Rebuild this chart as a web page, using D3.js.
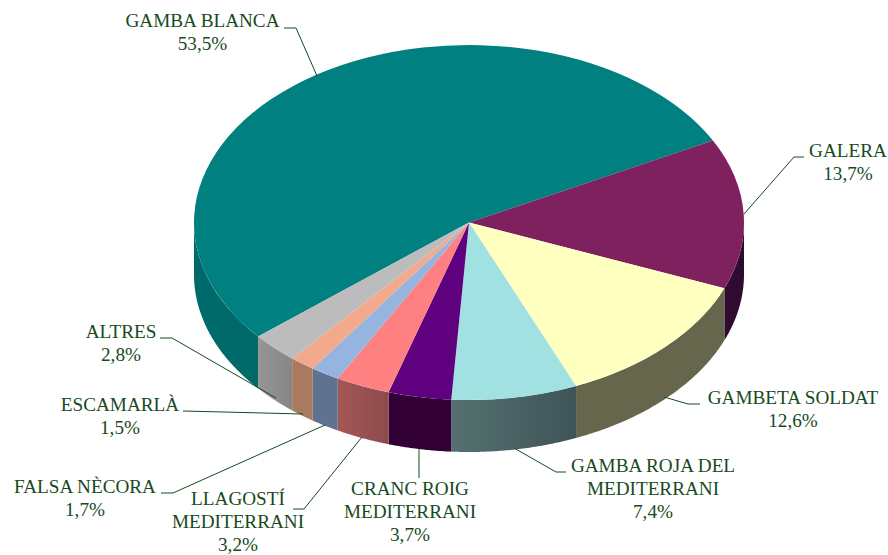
<!DOCTYPE html>
<html><head><meta charset="utf-8">
<script src="https://cdn.jsdelivr.net/npm/d3@7"></script>
<style>html,body{margin:0;background:#fff}svg{display:block}text{font-family:"Liberation Serif",serif;font-size:19.2px;fill:#174a1c;text-anchor:middle}</style>
</head><body><svg id="c" width="888" height="555"></svg>
<script>
const categories=["GAMBA BLANCA","GALERA","GAMBETA SOLDAT","GAMBA ROJA DEL MEDITERRANI","CRANC ROIG MEDITERRANI","LLAGOSTÍ MEDITERRANI","FALSA NÈCORA","ESCAMARLÀ","ALTRES"];
const values=[53.5,13.7,12.6,7.4,3.7,3.2,1.7,1.5,2.8];
const topColors=["#008080","#7f215f","#ffffc0","#a2e1e1","#5f007f","#ff8080","#95b5e0","#f3a98b","#bcbcbc"];
const sideLeft=["#006a6a","#2f0c2f","#66664c","#567070","#320035","#a65656","#5f7390","#a97a60","#969696"];
const sideRight=["#006a6a","#2f0c2f","#66664c","#3e5558","#320035","#8c4c4c","#5f7390","#a97a60","#868686"];
const labelLines=[["GAMBA BLANCA","53,5%"],["GALERA","13,7%"],["GAMBETA SOLDAT","12,6%"],["GAMBA ROJA DEL","MEDITERRANI","7,4%"],["CRANC ROIG","MEDITERRANI","3,7%"],["LLAGOSTÍ","MEDITERRANI","3,2%"],["FALSA NÈCORA","1,7%"],["ESCAMARLÀ","1,5%"],["ALTRES","2,8%"]];
const labelAnchors=[[202.5,27],[848,157],[793,404],[653,472],[410,495],[238,505],[85,493],[120,411],[121,338]];
const leaders=[[[284,28],[296,28],[317,76]],[[804,157],[794,157],[744,214]],[[700,404],[688,404],[664,397]],[[566,472],[556,472],[514,448]],[[419,478],[419,449]],[[293,509],[304,509],[362,437]],[[161,493],[173,493],[325,425]],[[183,411],[303,414]],[[160,338],[172,338],[276,398]]];

const cx=469,cy=222.5,rx=275,ry=177.5,depth=52,endDeg=62.5;
const svg=d3.select("#c"),defs=svg.append("defs");
const endA=endDeg*Math.PI/180;
const pie=d3.pie().sort(null).value(d=>d).startAngle(endA-2*Math.PI*values[0]/d3.sum(values)).endAngle(endA-2*Math.PI*values[0]/d3.sum(values)+2*Math.PI);
const arcs=pie(values);
const px=a=>cx+rx*Math.sin(a),py=a=>cy-ry*Math.cos(a);
const line=d3.line();
const H=Math.PI/2;
function wall(d){
  let segs=[];
  for(const k of [-2*Math.PI,0,2*Math.PI]){
    const a0=Math.max(d.startAngle,H+k),a1=Math.min(d.endAngle,3*H+k);
    if(a1>a0){
      const as=d3.range(0,61).map(t=>a0+(a1-a0)*t/60);
      segs.push(as.map(a=>[px(a),py(a)]).concat(as.slice().reverse().map(a=>[px(a),py(a)+depth])));
    }
  }
  return segs;
}
const walls=svg.append("g");
arcs.forEach((d,i)=>{
  wall(d).forEach((pts,j)=>{
    const xs=d3.extent(pts,p=>p[0]);
    const id=`g${i}-${j}`;
    const g=defs.append("linearGradient").attr("id",id).attr("gradientUnits","userSpaceOnUse").attr("x1",xs[0]).attr("x2",xs[1]).attr("y1",0).attr("y2",0);
    g.append("stop").attr("offset",0).attr("stop-color",sideLeft[i]);
    g.append("stop").attr("offset",1).attr("stop-color",sideRight[i]);
    walls.append("path").attr("d",line(pts)+"Z").attr("fill",`url(#${id})`);
  });
});
const arc=d3.arc().innerRadius(0).outerRadius(rx);
const topFace=svg.append("g").attr("transform",`translate(${cx},${cy}) scale(1,${ry/rx})`);
topFace.selectAll("path").data(arcs).join("path").attr("d",arc).attr("fill",(d,i)=>topColors[i]);
svg.append("g").selectAll("path").data(leaders).join("path").attr("d",d=>line(d)).attr("fill","none").attr("stroke","#174a1c").attr("stroke-width",1);
const lab=svg.append("g").selectAll("text").data(labelLines).join("text").attr("x",(d,i)=>labelAnchors[i][0]).attr("y",(d,i)=>labelAnchors[i][1]);
lab.selectAll("tspan").data(d=>d).join("tspan").attr("x",function(){return this.parentNode.getAttribute("x")}).attr("dy",(d,i)=>i?23:0).text(d=>d);
</script></body></html>
